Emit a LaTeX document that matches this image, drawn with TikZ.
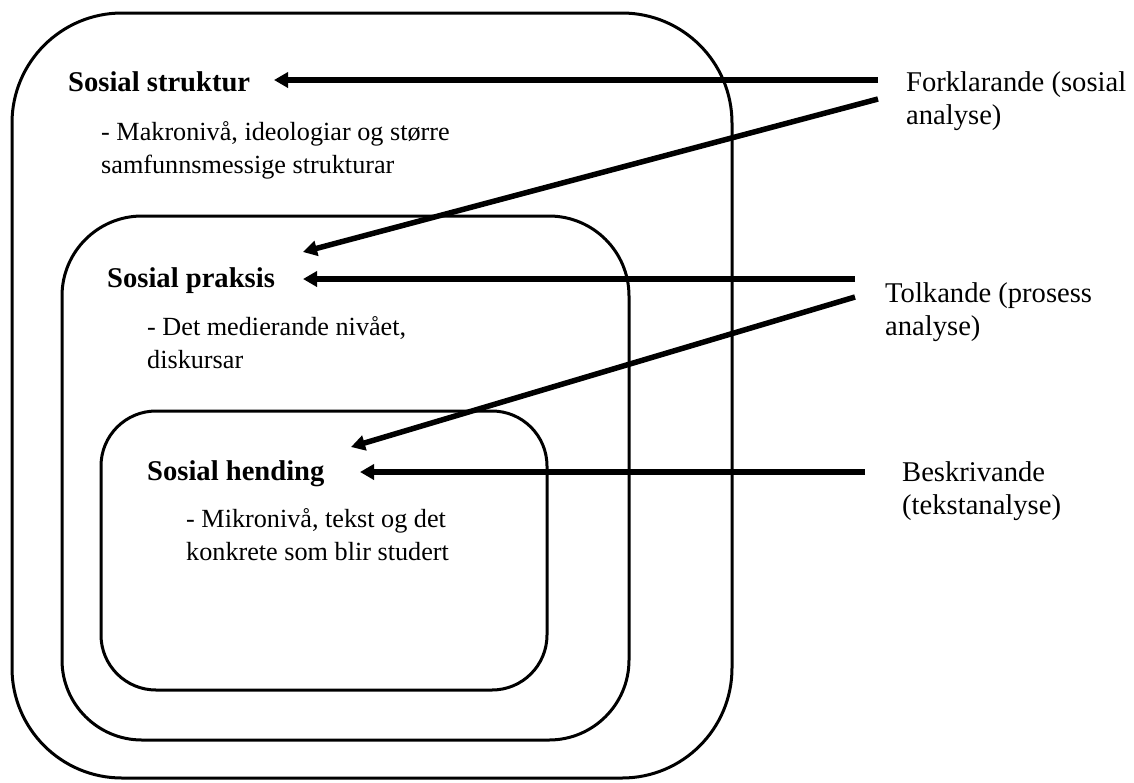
\documentclass[tikz,border=0pt]{standalone}
\usepackage{fontspec}
\setmainfont{Liberation Serif}
\usetikzlibrary{arrows.meta}
\begin{document}
\begin{tikzpicture}[x=1pt,y=-1pt,
  box/.style={line width=3pt, rounded corners=#1},
  arr/.style={line width=5.5pt, -{Triangle[length=14pt,width=15pt]}},
  head/.style={font=\fontsize{28.6}{33.5}\selectfont\bfseries, anchor=base west, inner sep=0pt},
  body/.style={font=\fontsize{26.2}{33.5}\selectfont, anchor=base west, align=left, inner sep=0pt},
  lab/.style={font=\fontsize{28.6}{33}\selectfont, anchor=base west, align=left, inner sep=0pt}]
\useasboundingbox (0,0) rectangle (1134,782);
% nested boxes
\draw[box=110pt] (12,13) rectangle (732,778);
\draw[box=80pt] (62,216) rectangle (629,740);
\draw[box=55pt] (101,411) rectangle (547,690);
% headings and descriptions (base = last line)
\node[head] (struktur) at (68,91) {Sosial struktur};
\node[body] (makro) at (101,173.5) {- Makronivå, ideologiar og større\\samfunnsmessige strukturar};
\node[head] (praksis) at (107,287) {Sosial praksis};
\node[body] (meso) at (147,368.5) {- Det medierande nivået,\\diskursar};
\node[head] (hending) at (147,480) {Sosial hending};
\node[body] (mikro) at (186,560.5) {- Mikronivå, tekst og det\\konkrete som blir studert};
% right labels
\node[lab] (forkl) at (906,124) {Forklarande (sosial\\analyse)};
\node[lab] (tolk) at (885,335) {Tolkande (prosess\\analyse)};
\node[lab] (beskr) at (902,514) {Beskrivande\\(tekstanalyse)};
% arrow endpoints
\coordinate (f1) at (878,80);
\coordinate (f2) at (878,99);
\coordinate (t1) at (855,279);
\coordinate (t2) at (855,297);
\coordinate (b1) at (865,472);
\coordinate (sStr) at (274,80);
\coordinate (sPr1) at (303,252);
\coordinate (sPr2) at (303,279);
\coordinate (sHe1) at (351,447);
\coordinate (sHe2) at (360,472);
\draw[arr] (f1) -- (sStr);
\draw[arr] (f2) -- (sPr1);
\draw[arr] (t1) -- (sPr2);
\draw[arr] (t2) -- (sHe1);
\draw[arr] (b1) -- (sHe2);
\end{tikzpicture}
\end{document}
